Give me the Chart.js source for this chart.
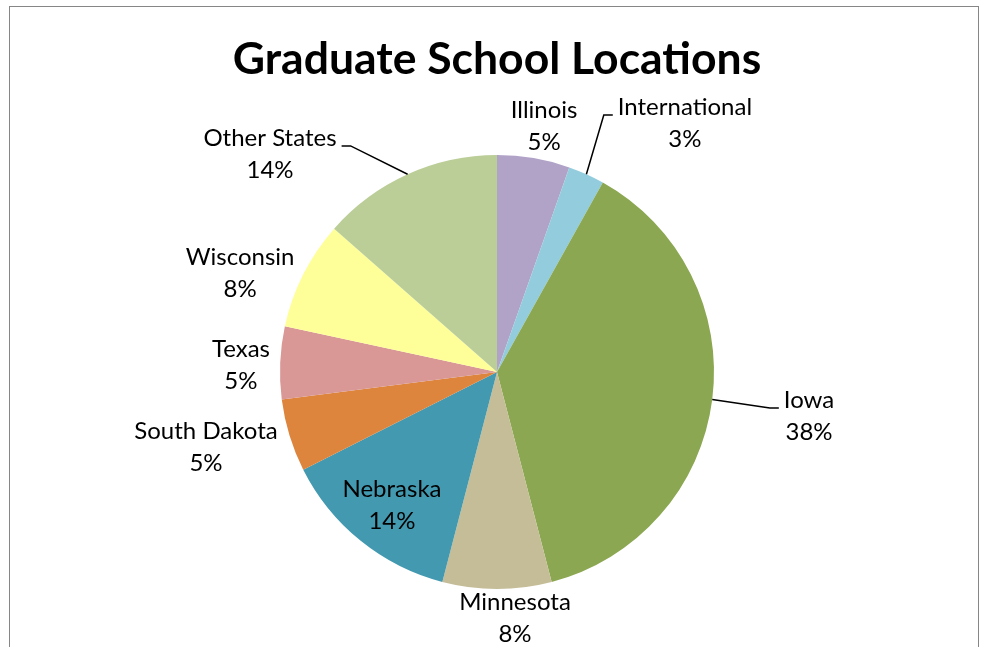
<!DOCTYPE html>
<html>
<head>
<meta charset="utf-8">
<script src="https://cdn.jsdelivr.net/npm/chart.js@4/dist/chart.umd.min.js"></script>
<style>
  html, body { margin: 0; padding: 0; background: #fff; overflow: hidden; }
  #wrap { position: relative; width: 984px; height: 647px; }
  #frame { position: absolute; left: 9px; top: 6px; width: 970px; height: 700px; border: 1px solid #868686; pointer-events: none; box-sizing: border-box; }
  canvas { position: absolute; left: 0; top: 0; }
</style>
</head>
<body>
<div id="wrap">
  <canvas id="c" width="984" height="647"></canvas>
  <div id="frame"></div>
</div>
<script>
const categories = ["Illinois", "International", "Iowa", "Minnesota", "Nebraska", "South Dakota", "Texas", "Wisconsin", "Other States"];
const counts = [2, 1, 14, 3, 5, 2, 2, 3, 5];
const colors = ["#B1A2C8", "#93CDDD", "#8BA751", "#C4BD97", "#4299B0", "#DD843D", "#D99795", "#FFFF99", "#BBCE98"];
// label centres relative to pie centre, in units of the radius
const labelOffsets = [[0.217, -1.134], [0.866, -1.147], [1.438, 0.203], [0.083, 1.134], [-0.484, 0.613], [-1.341, 0.346], [-1.18, -0.032], [-1.184, -0.456], [-1.046, -1.005]];
const hasLeader = [false, true, true, false, false, false, false, false, true];

const FONT = "Lato, 'Open Sans', sans-serif";

const labelPlugin = {
  id: 'pieLabels',
  afterDatasetsDraw(chart) {
    const ctx = chart.ctx;
    const meta = chart.getDatasetMeta(0);
    const total = counts.reduce((a, b) => a + b, 0);
    ctx.save();
    ctx.font = "24px " + FONT;
    ctx.fillStyle = "#000";
    ctx.textAlign = "center";
    ctx.textBaseline = "middle";
    const lineGap = 32;
    meta.data.forEach((arc, i) => {
      const r = arc.outerRadius, cx = arc.x, cy = arc.y;
      const lx = cx + labelOffsets[i][0] * r;
      const ly = cy + labelOffsets[i][1] * r;
      const pct = Math.round(counts[i] / total * 100) + "%";
      ctx.fillText(categories[i], lx, ly - lineGap / 2);
      ctx.fillText(pct, lx, ly + lineGap / 2);
      if (hasLeader[i]) {
        const mid = (arc.startAngle + arc.endAngle) / 2;
        const ex = cx + Math.cos(mid) * r;
        const ey = cy + Math.sin(mid) * r;
        const w = ctx.measureText(categories[i]).width;
        const side = lx > cx ? -1 : 1;
        const stubX = lx + side * (w / 2 + 5);
        const elbowX = stubX + side * 9;
        const yy = ly - lineGap / 2 + 8;
        ctx.beginPath();
        ctx.strokeStyle = "#000";
        ctx.lineWidth = 1.5;
        ctx.moveTo(ex, ey);
        ctx.lineTo(elbowX, yy);
        ctx.lineTo(stubX, yy);
        ctx.stroke();
      }
    });
    ctx.restore();
  }
};

new Chart(document.getElementById('c'), {
  type: 'pie',
  data: {
    labels: categories,
    datasets: [{ data: counts, backgroundColor: colors, borderWidth: 0 }]
  },
  options: {
    responsive: false,
    animation: false,
    layout: { padding: { top: 0, bottom: 58, left: 10, right: 0 } },
    plugins: {
      legend: { display: false },
      tooltip: { enabled: false },
      title: {
        display: true,
        text: "Graduate School Locations",
        color: "#000",
        font: { family: FONT, size: 44.5, weight: "bold", lineHeight: 1.2 },
        padding: { top: 33, bottom: 68.6 }
      }
    }
  },
  plugins: [labelPlugin]
});
</script>
</body>
</html>
